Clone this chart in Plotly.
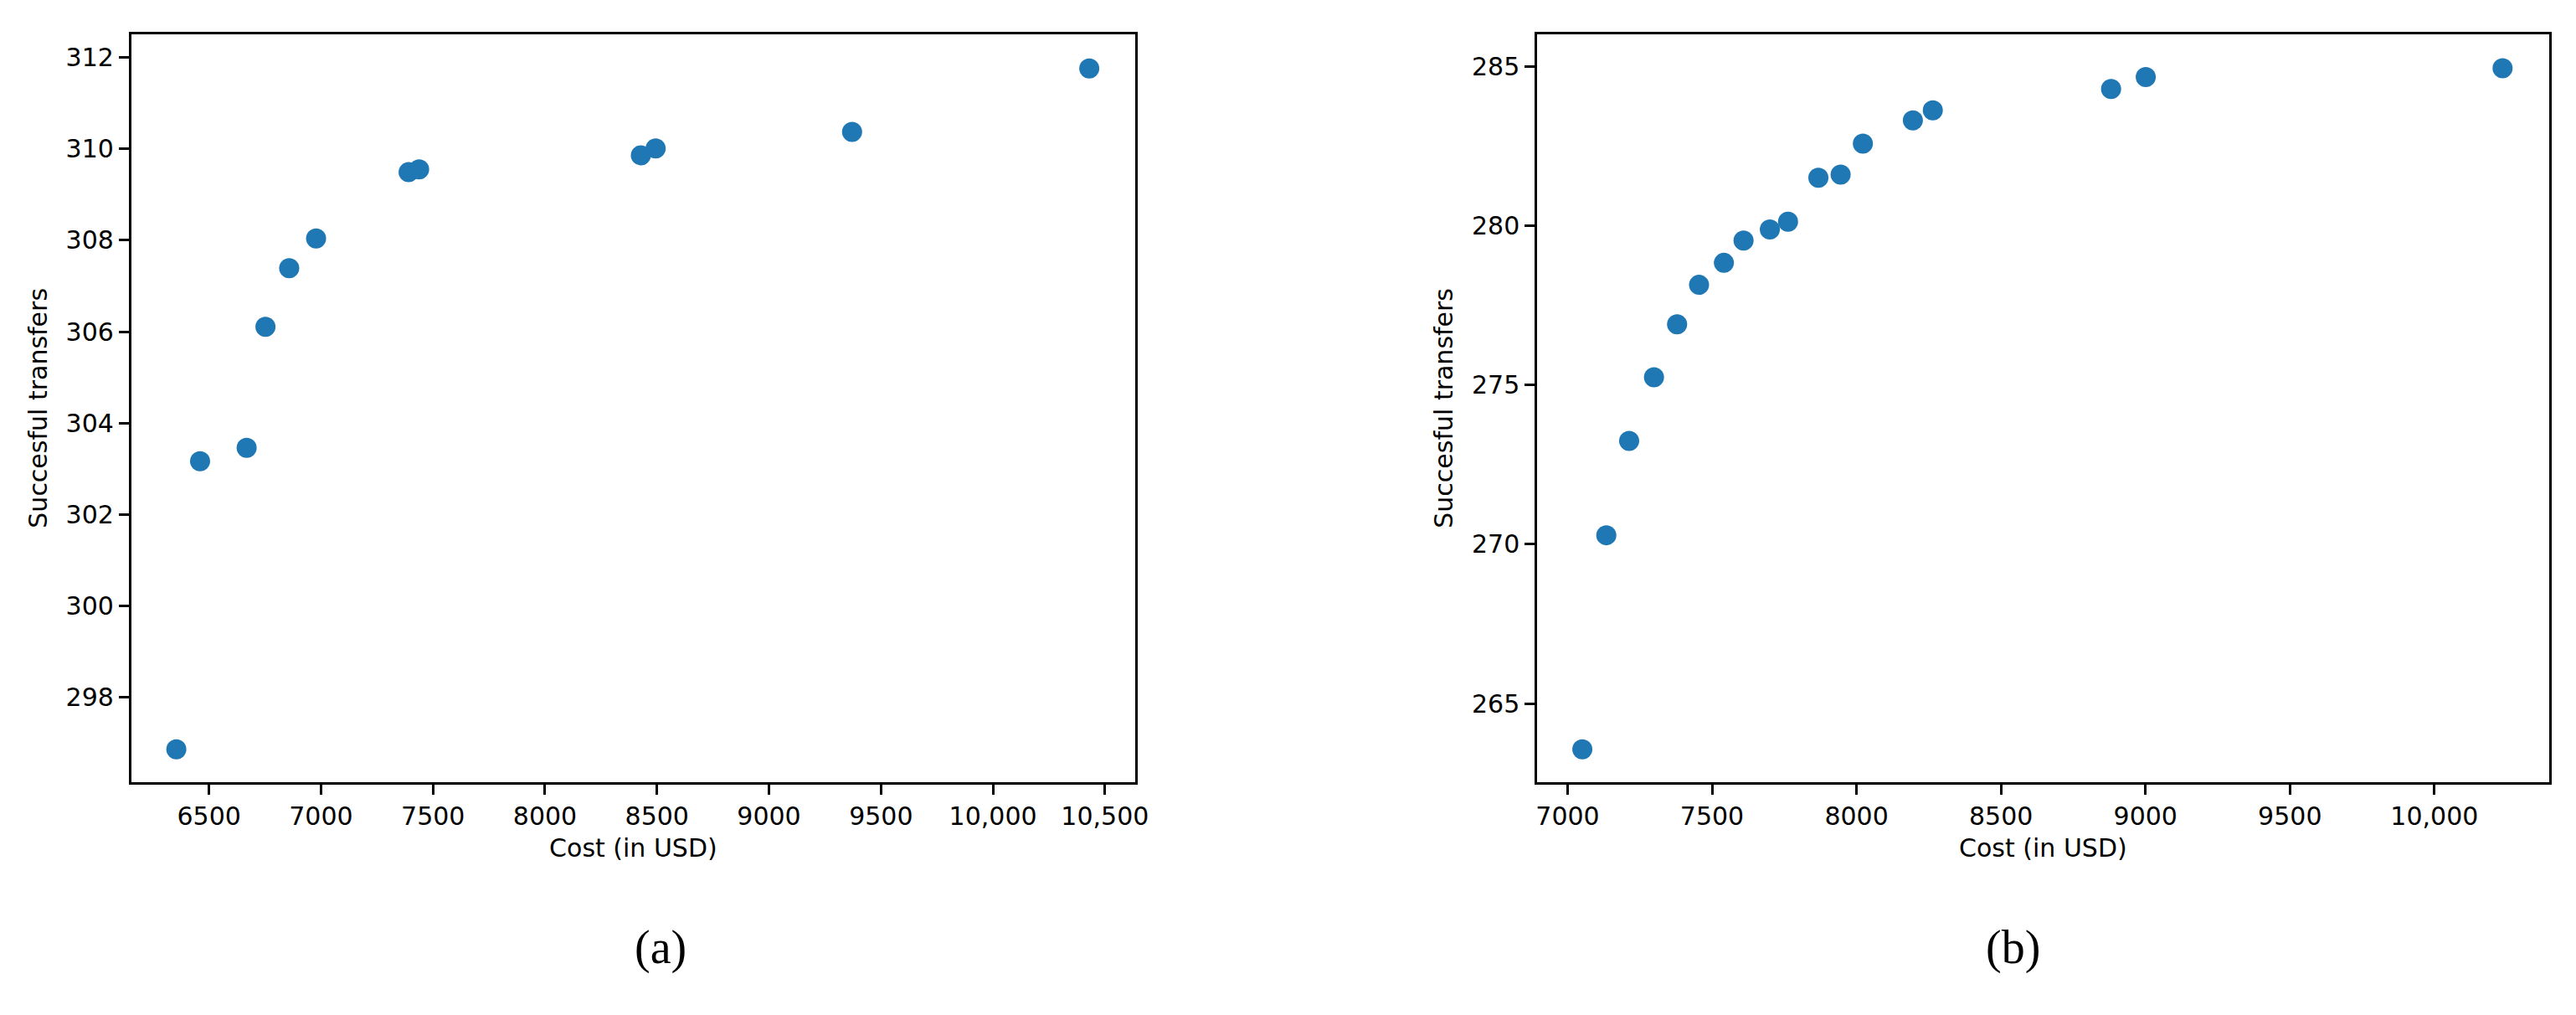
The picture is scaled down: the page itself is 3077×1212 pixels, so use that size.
import plotly.graph_objects as go

xa = [6354, 6460, 6668, 6752, 6858, 6978, 7391, 7438, 8428, 8494, 9371, 10430]
ya = [296.87, 303.17, 303.46, 306.11, 307.39, 308.04, 309.49, 309.55, 309.86, 310.01, 310.37, 311.76]
xb = [7051, 7134, 7213, 7299, 7379, 7455, 7541, 7609, 7700, 7763, 7868, 7945, 8022, 8195, 8264, 8881, 9001, 10236]
yb = [263.56, 270.28, 273.24, 275.24, 276.90, 278.14, 278.83, 279.53, 279.88, 280.12, 281.50, 281.60, 282.57, 283.30, 283.62, 284.29, 284.66, 284.94]
xticks_a = [6500, 7000, 7500, 8000, 8500, 9000, 9500, 10000, 10500]
xticks_b = [7000, 7500, 8000, 8500, 9000, 9500, 10000]
yticks_a = [298, 300, 302, 304, 306, 308, 310, 312]
yticks_b = [265, 270, 275, 280, 285]
labels = ["(a)", "(b)"]

def fmt(v):
    return f"{v:,}" if v >= 10000 else str(v)

C = "#1f77b4"
fig = go.Figure()
fig.add_trace(go.Scatter(x=xa, y=ya, mode="markers", marker=dict(color=C, size=24), xaxis="x", yaxis="y"))
fig.add_trace(go.Scatter(x=xb, y=yb, mode="markers", marker=dict(color=C, size=24), xaxis="x2", yaxis="y2"))

font = dict(family="DejaVu Sans", size=30, color="black")
ax = dict(showgrid=False, zeroline=False, showline=True, linecolor="black", linewidth=3, mirror=True,
          ticks="outside", ticklen=12, tickwidth=3, tickcolor="black", tickfont=font)
fig.update_layout(
    width=3077, height=1212, margin=dict(l=0, r=0, t=0, b=0),
    plot_bgcolor="white", paper_bgcolor="white", showlegend=False,
    xaxis=dict(ax, domain=[0.048, 0.440], range=[6153, 10635], tickvals=xticks_a, ticktext=[fmt(v) for v in xticks_a],
               title=dict(text="Cost (in USD)", font=font, standoff=12), anchor="y"),
    yaxis=dict(ax, domain=[0.236, 0.973], range=[296.15, 312.51], tickvals=yticks_a, ticktext=[str(v) for v in yticks_a],
               title=dict(text="Succesful transfers", font=font, standoff=14), anchor="x"),
    xaxis2=dict(ax, domain=[0.597, 0.992], range=[6895, 10396], tickvals=xticks_b, ticktext=[fmt(v) for v in xticks_b],
                title=dict(text="Cost (in USD)", font=font, standoff=12), anchor="y2"),
    yaxis2=dict(ax, domain=[0.236, 0.973], range=[262.53, 286.01], tickvals=yticks_b, ticktext=[str(v) for v in yticks_b],
                title=dict(text="Succesful transfers", font=font, standoff=14), anchor="x2"),
)
for lab, xc in zip(labels, [0.244, 0.794]):
    fig.add_annotation(text=lab, x=xc, y=0.045, xref="paper", yref="paper", showarrow=False,
                       font=dict(family="Liberation Serif", size=56, color="black"))
fig.write_html("out.html")
